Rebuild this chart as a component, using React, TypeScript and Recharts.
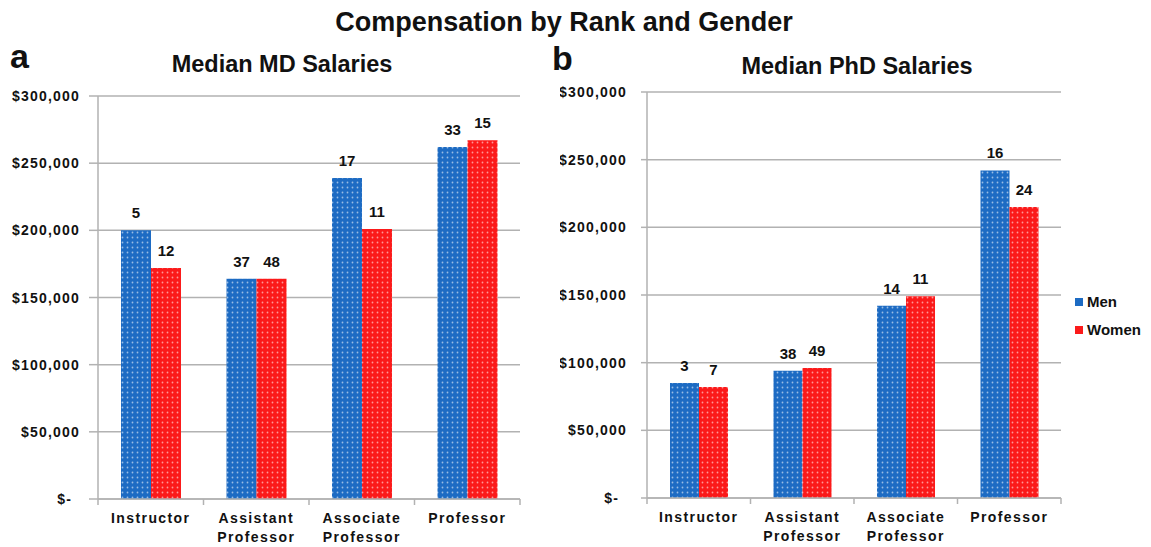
import React from 'react';
import {
  BarChart,
  Bar,
  XAxis,
  YAxis,
  CartesianGrid,
  LabelList
} from 'recharts';

// Ranks on the category axis
const ranks = ['Instructor', 'Assistant Professor', 'Associate Professor', 'Professor'];

// Median MD salaries and counts (panel a)
const mdMen = [200000, 164000, 239000, 262000];
const mdWomen = [172000, 164000, 201000, 267000];
const mdMenCount = [5, 37, 17, 33];
const mdWomenCount = [12, 48, 11, 15];

// Median PhD salaries and counts (panel b)
const phdMen = [85000, 94000, 142000, 242000];
const phdWomen = [82000, 96000, 149000, 215000];
const phdMenCount = [3, 38, 14, 16];
const phdWomenCount = [7, 49, 11, 24];

const yTicks = [0, 50000, 100000, 150000, 200000, 250000, 300000];

const FONT = '"Liberation Sans", Arial, sans-serif';
const GRID = '#b2b2b2';
const BLUE = '#1d6bc3';
const RED = '#fb1a1a';

const buildRows = (men: number[], women: number[], menN: number[], womenN: number[]) =>
  ranks.map((rank, i) => ({
    rank,
    men: men[i],
    women: women[i],
    menN: menN[i],
    womenN: womenN[i]
  }));

const mdData = buildRows(mdMen, mdWomen, mdMenCount, mdWomenCount);
const phdData = buildRows(phdMen, phdWomen, phdMenCount, phdWomenCount);

const formatMoney = (v: number) => (v === 0 ? '$-' : '$' + v.toLocaleString('en-US'));

const MoneyTick = (props: any) => {
  const { x, y, payload } = props;
  const zero = payload.value === 0;
  return (
    <text
      x={zero ? x - 8 : x}
      y={y}
      dy={5}
      textAnchor="end"
      fontFamily={FONT}
      fontSize={14}
      fontWeight="bold"
      letterSpacing={1.2}
      fill="#111"
    >
      {formatMoney(payload.value)}
    </text>
  );
};

// category label, plus Excel-style tick marks on the band edges
const RankTick = (props: any) => {
  const { x, y, payload, index, visibleTicksCount } = props;
  const half = payload.offset || 0;
  const lines = String(payload.value).split(' ');
  const last = index === (visibleTicksCount || ranks.length) - 1;
  return (
    <g>
      <line x1={x - half} x2={x - half} y1={y} y2={y + 6} stroke={GRID} strokeWidth={1.5} />
      {last && <line x1={x + half} x2={x + half} y1={y} y2={y + 6} stroke={GRID} strokeWidth={1.5} />}
      <text
        x={x}
        y={y}
        textAnchor="middle"
        fontFamily={FONT}
        fontSize={14}
        fontWeight="bold"
        letterSpacing={1.4}
        fill="#111"
      >
        {lines.map((line, i) => (
          <tspan key={line} x={x} dy={i === 0 ? 24 : 19}>
            {line}
          </tspan>
        ))}
      </text>
    </g>
  );
};

const DotPattern = ({ id, color }: { id: string; color: string }) => (
  <pattern id={id} width={5} height={5} patternUnits="userSpaceOnUse">
    <rect width={5} height={5} fill={color} />
    <circle cx={2.5} cy={2.5} r={0.9} fill="#fff" fillOpacity={0.55} />
  </pattern>
);

const labelStyle = { fontFamily: FONT, fontSize: 15, fontWeight: 'bold' as const, fill: '#111' };

interface PanelProps {
  id: string;
  data: any[];
  width: number;
  margin: { top: number; right: number; bottom: number; left: number };
  xHeight: number;
  yWidth: number;
  tickSize: number;
  tickMargin: number;
  barSize: number;
}

const SalaryPanel: React.FC<PanelProps> = ({ id, data, width, margin, xHeight, yWidth, tickSize, tickMargin, barSize }) => (
  <BarChart width={width} height={547} data={data} margin={margin} barGap={0} barSize={barSize}>
    <defs>
      <DotPattern id={`${id}-blue`} color={BLUE} />
      <DotPattern id={`${id}-red`} color={RED} />
    </defs>
    <CartesianGrid vertical={false} stroke={GRID} strokeWidth={1.5} />
    <XAxis
      dataKey="rank"
      height={xHeight}
      interval={0}
      tickLine={false}
      tickSize={0}
      tickMargin={0}
      axisLine={{ stroke: GRID, strokeWidth: 1.5 }}
      tick={<RankTick />}
    />
    <YAxis
      width={yWidth}
      domain={[0, 300000]}
      ticks={yTicks}
      interval={0}
      axisLine={{ stroke: GRID, strokeWidth: 1.5 }}
      tickLine={{ stroke: GRID, strokeWidth: 1.5 }}
      tickSize={tickSize}
      tickMargin={tickMargin}
      tick={<MoneyTick />}
    />
    <Bar dataKey="men" name="Men" fill={`url(#${id}-blue)`} isAnimationActive={false}>
      <LabelList dataKey="menN" position="top" offset={12} style={labelStyle} />
    </Bar>
    <Bar dataKey="women" name="Women" fill={`url(#${id}-red)`} isAnimationActive={false}>
      <LabelList dataKey="womenN" position="top" offset={12} style={labelStyle} />
    </Bar>
  </BarChart>
);

const textBase: React.CSSProperties = {
  position: 'absolute',
  fontFamily: FONT,
  fontWeight: 'bold',
  color: '#111',
  whiteSpace: 'nowrap'
};

const LegendItem = ({ color, label, top }: { color: string; label: string; top: number }) => (
  <div style={{ position: 'absolute', left: 1075, top, display: 'flex', alignItems: 'center' }}>
    <div style={{ width: 8, height: 8, background: color, marginRight: 4 }} />
    <span style={{ fontFamily: FONT, fontWeight: 'bold', fontSize: 15, color: '#111' }}>{label}</span>
  </div>
);

export default function App() {
  return (
    <div style={{ position: 'absolute', left: 0, top: 0, width: 1151, height: 547, background: '#fff', overflow: 'hidden' }}>
      <div style={{ ...textBase, fontSize: 27, lineHeight: '27px', top: 9, left: 0, width: 1128, textAlign: 'center' }}>
        Compensation by Rank and Gender
      </div>
      <div style={{ ...textBase, fontSize: 34, lineHeight: '34px', top: 39, left: 10 }}>a</div>
      <div style={{ ...textBase, fontSize: 34, lineHeight: '34px', top: 41, left: 552 }}>b</div>
      <div style={{ ...textBase, fontSize: 23.5, lineHeight: '24px', top: 52, left: 132, width: 300, textAlign: 'center' }}>
        Median MD Salaries
      </div>
      <div style={{ ...textBase, fontSize: 23.5, lineHeight: '24px', top: 54, left: 707, width: 300, textAlign: 'center' }}>
        Median PhD Salaries
      </div>

      <div style={{ position: 'absolute', left: 0, top: 0 }}>
        <SalaryPanel
          id="md"
          data={mdData}
          width={560}
          margin={{ top: 96, right: 40, bottom: 0, left: 0 }}
          xHeight={48}
          yWidth={98}
          tickSize={9}
          tickMargin={9}
          barSize={30}
        />
      </div>
      <div style={{ position: 'absolute', left: 560, top: 0 }}>
        <SalaryPanel
          id="phd"
          data={phdData}
          width={520}
          margin={{ top: 92, right: 19, bottom: 0, left: 0 }}
          xHeight={49}
          yWidth={87}
          tickSize={6}
          tickMargin={14}
          barSize={29}
        />
      </div>

      <LegendItem color={BLUE} label="Men" top={293} />
      <LegendItem color={RED} label="Women" top={321} />
    </div>
  );
}
